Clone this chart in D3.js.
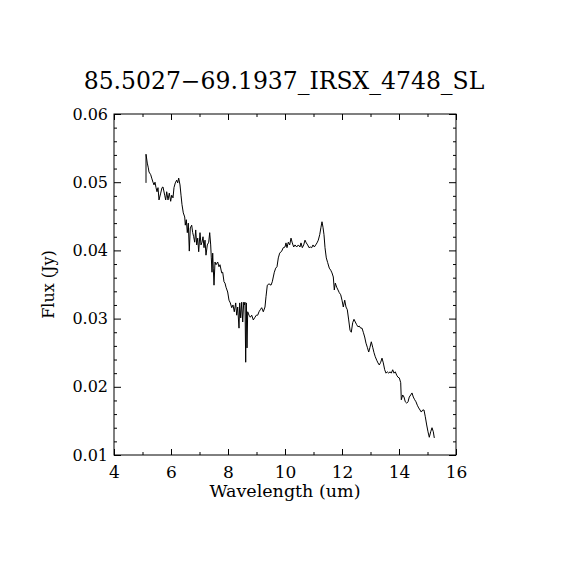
<!DOCTYPE html>
<html>
<head>
<meta charset="utf-8">
<script src="https://cdn.jsdelivr.net/npm/d3@7"></script>
<style>
  body { margin: 0; background: #fff; }
  text { font-family: "DejaVu Serif", serif; fill: #000; }
</style>
</head>
<body>
<div id="chart"></div>
<script>
// chart labels
var title = "85.5027\u221269.1937_IRSX_4748_SL";
var xLabel = "Wavelength (um)";
var yLabel = "Flux (Jy)";

// axis ticks
var xTicks = [4, 6, 8, 10, 12, 14, 16];
var yTicks = [0.01, 0.02, 0.03, 0.04, 0.05, 0.06];
var yTickLabels = ["0.01", "0.02", "0.03", "0.04", "0.05", "0.06"];

// spectrum
var wavelength = [5.123, 5.123, 5.168, 5.204, 5.228, 5.288, 5.323, 5.368, 5.404, 5.439,
  5.474, 5.509, 5.544, 5.579, 5.639, 5.684, 5.719, 5.779, 5.814, 5.849,
  5.895, 5.940, 5.989, 6.025, 6.070, 6.105, 6.151, 6.200, 6.235, 6.270,
  6.316, 6.351, 6.386, 6.432, 6.481, 6.502, 6.537, 6.572, 6.607, 6.642,
  6.677, 6.726, 6.761, 6.796, 6.832, 6.867, 6.902, 6.937, 6.972, 7.018,
  7.053, 7.088, 7.123, 7.158, 7.193, 7.228, 7.274, 7.323, 7.358, 7.393,
  7.414, 7.439, 7.463, 7.484, 7.509, 7.544, 7.579, 7.639, 7.684, 7.719,
  7.779, 7.814, 7.860, 7.895, 7.930, 7.989, 8.035, 8.081, 8.130, 8.175,
  8.221, 8.270, 8.305, 8.340, 8.386, 8.411, 8.446, 8.481, 8.516, 8.551,
  8.572, 8.596, 8.621, 8.642, 8.667, 8.691, 8.737, 8.782, 8.832, 8.888,
  8.947, 8.993, 9.042, 9.088, 9.133, 9.182, 9.239, 9.298, 9.333, 9.379,
  9.439, 9.509, 9.554, 9.589, 9.625, 9.674, 9.719, 9.765, 9.814, 9.884,
  9.940, 10.000, 10.035, 10.070, 10.116, 10.165, 10.211, 10.256, 10.305, 10.351,
  10.411, 10.467, 10.526, 10.561, 10.607, 10.656, 10.702, 10.747, 10.796, 10.842,
  10.888, 10.937, 10.982, 11.028, 11.077, 11.123, 11.168, 11.218, 11.263, 11.298,
  11.333, 11.368, 11.404, 11.449, 11.498, 11.554, 11.604, 11.649, 11.695, 11.730,
  11.765, 11.814, 11.860, 11.905, 11.954, 12.000, 12.046, 12.095, 12.140, 12.186,
  12.235, 12.281, 12.326, 12.375, 12.421, 12.467, 12.516, 12.561, 12.607, 12.656,
  12.702, 12.747, 12.796, 12.842, 12.888, 12.937, 12.982, 13.028, 13.077, 13.123,
  13.168, 13.218, 13.263, 13.309, 13.358, 13.404, 13.449, 13.498, 13.544, 13.589,
  13.639, 13.684, 13.730, 13.779, 13.825, 13.870, 13.919, 13.965, 14.011, 14.060,
  14.081, 14.130, 14.175, 14.221, 14.270, 14.316, 14.361, 14.411, 14.456, 14.502,
  14.551, 14.596, 14.642, 14.691, 14.737, 14.782, 14.832, 14.877, 14.923, 14.972,
  15.018, 15.063, 15.112, 15.158, 15.204, 15.239];
var flux = [0.0499, 0.0541, 0.0528, 0.0521, 0.0515, 0.0511, 0.0506, 0.0500, 0.0496, 0.0500,
  0.0492, 0.0486, 0.0492, 0.0474, 0.0484, 0.0492, 0.0493, 0.0481, 0.0474, 0.0486,
  0.0474, 0.0484, 0.0472, 0.0481, 0.0477, 0.0492, 0.0499, 0.0503, 0.0499, 0.0506,
  0.0496, 0.0481, 0.0467, 0.0455, 0.0449, 0.0437, 0.0445, 0.0426, 0.0440, 0.0399,
  0.0433, 0.0437, 0.0426, 0.0420, 0.0412, 0.0430, 0.0408, 0.0418, 0.0398, 0.0426,
  0.0408, 0.0412, 0.0420, 0.0404, 0.0415, 0.0393, 0.0408, 0.0412, 0.0426, 0.0408,
  0.0389, 0.0368, 0.0396, 0.0374, 0.0349, 0.0383, 0.0379, 0.0383, 0.0376, 0.0379,
  0.0367, 0.0368, 0.0354, 0.0352, 0.0346, 0.0339, 0.0327, 0.0323, 0.0316, 0.0320,
  0.0310, 0.0323, 0.0305, 0.0317, 0.0286, 0.0323, 0.0301, 0.0324, 0.0295, 0.0324,
  0.0320, 0.0324, 0.0236, 0.0323, 0.0257, 0.0310, 0.0305, 0.0302, 0.0305, 0.0298,
  0.0302, 0.0305, 0.0305, 0.0310, 0.0313, 0.0316, 0.0310, 0.0317, 0.0332, 0.0349,
  0.0351, 0.0349, 0.0354, 0.0361, 0.0368, 0.0374, 0.0376, 0.0389, 0.0396, 0.0399,
  0.0404, 0.0405, 0.0411, 0.0404, 0.0412, 0.0408, 0.0418, 0.0411, 0.0405, 0.0408,
  0.0405, 0.0408, 0.0405, 0.0411, 0.0404, 0.0408, 0.0415, 0.0411, 0.0408, 0.0404,
  0.0405, 0.0404, 0.0408, 0.0405, 0.0408, 0.0411, 0.0415, 0.0423, 0.0434, 0.0442,
  0.0434, 0.0423, 0.0404, 0.0389, 0.0382, 0.0374, 0.0371, 0.0367, 0.0361, 0.0342,
  0.0352, 0.0346, 0.0342, 0.0338, 0.0335, 0.0327, 0.0317, 0.0327, 0.0317, 0.0313,
  0.0298, 0.0283, 0.0280, 0.0294, 0.0299, 0.0295, 0.0291, 0.0288, 0.0289, 0.0286,
  0.0286, 0.0280, 0.0273, 0.0264, 0.0258, 0.0251, 0.0258, 0.0266, 0.0258, 0.0250,
  0.0244, 0.0239, 0.0235, 0.0232, 0.0236, 0.0242, 0.0235, 0.0225, 0.0220, 0.0222,
  0.0220, 0.0222, 0.0220, 0.0225, 0.0220, 0.0222, 0.0217, 0.0214, 0.0213, 0.0206,
  0.0181, 0.0188, 0.0185, 0.0178, 0.0176, 0.0178, 0.0185, 0.0188, 0.0191, 0.0185,
  0.0181, 0.0178, 0.0173, 0.0169, 0.0166, 0.0163, 0.0166, 0.0166, 0.0156, 0.0144,
  0.0134, 0.0126, 0.0134, 0.0140, 0.0134, 0.0125];

var width = 570, height = 570;
var plotLeft = 114, plotRight = 456, plotTop = 114, plotBottom = 455;

var svg = d3.select("#chart").append("svg")
  .attr("width", width)
  .attr("height", height)
  .style("background", "#fff");

var x = d3.scaleLinear().domain([4, 16]).range([plotLeft, plotRight]);
var y = d3.scaleLinear().domain([0.01, 0.06]).range([plotBottom, plotTop]);

//minor ticks: every 1 um on x, every 0.002 Jy on y
var xMinor = d3.range(5, 16, 2);
var yMinor = d3.range(1, 25).map(function(i) { return 0.01 + i * 0.002; })
  .filter(function(v) { return Math.abs(v * 100 - Math.round(v * 100)) > 1e-6; });

//axes, ticks pointing inward, mirrored on top and right
var bottomAxis = d3.axisBottom(x).tickValues(xTicks).tickSize(-6).tickFormat(d3.format("d")).tickPadding(11);
var topAxis = d3.axisTop(x).tickValues(xTicks).tickSize(-6).tickFormat("");
var leftAxis = d3.axisLeft(y).tickValues(yTicks).tickSize(-7)
  .tickFormat(function(d, i) { return yTickLabels[i]; }).tickPadding(6);
var rightAxis = d3.axisRight(y).tickValues(yTicks).tickSize(-7).tickFormat("");

function styleAxis(g) {
  g.select(".domain").remove();
  g.selectAll("line").attr("stroke", "#000").attr("stroke-width", 1);
  g.selectAll("text").style("font-family", "DejaVu Serif, serif").style("font-size", "16px").attr("fill", "#000");
}

svg.append("g").attr("transform", "translate(0," + plotBottom + ")").call(bottomAxis).call(styleAxis)
  .selectAll("text").style("font-size", "17px");
svg.append("g").attr("transform", "translate(0," + plotTop + ")").call(topAxis).call(styleAxis);
svg.append("g").attr("transform", "translate(" + plotLeft + ",0)").call(leftAxis).call(styleAxis);
svg.append("g").attr("transform", "translate(" + plotRight + ",0)").call(rightAxis).call(styleAxis);

//minor ticks
svg.append("g").attr("transform", "translate(0," + plotBottom + ")")
  .call(d3.axisBottom(x).tickValues(xMinor).tickSize(-3).tickFormat("")).call(styleAxis);
svg.append("g").attr("transform", "translate(0," + plotTop + ")")
  .call(d3.axisTop(x).tickValues(xMinor).tickSize(-3).tickFormat("")).call(styleAxis);
svg.append("g").attr("transform", "translate(" + plotLeft + ",0)")
  .call(d3.axisLeft(y).tickValues(yMinor).tickSize(-3).tickFormat("")).call(styleAxis);
svg.append("g").attr("transform", "translate(" + plotRight + ",0)")
  .call(d3.axisRight(y).tickValues(yMinor).tickSize(-3).tickFormat("")).call(styleAxis);

//plot frame
svg.append("rect")
  .attr("x", plotLeft).attr("y", plotTop)
  .attr("width", plotRight - plotLeft).attr("height", plotBottom - plotTop)
  .attr("fill", "none").attr("stroke", "#000").attr("stroke-width", 1);

//spectrum line
var points = wavelength.map(function(w, i) { return [w, flux[i]]; });
var line = d3.line()
  .x(function(d) { return x(d[0]); })
  .y(function(d) { return y(d[1]); });

svg.append("path")
  .datum(points)
  .attr("d", line)
  .attr("fill", "none")
  .attr("stroke", "#000")
  .attr("stroke-width", 1);

//title and axis labels
svg.append("text")
  .attr("x", 284).attr("y", 89)
  .attr("text-anchor", "middle")
  .style("font-size", "23.5px")
  .text(title);

svg.append("text")
  .attr("x", (plotLeft + plotRight) / 2).attr("y", 497)
  .attr("text-anchor", "middle")
  .style("font-size", "17.5px")
  .text(xLabel);

svg.append("text")
  .attr("transform", "translate(54," + ((plotTop + plotBottom) / 2) + ") rotate(-90)")
  .attr("text-anchor", "middle")
  .style("font-size", "16px")
  .text(yLabel);
</script>
</body>
</html>
